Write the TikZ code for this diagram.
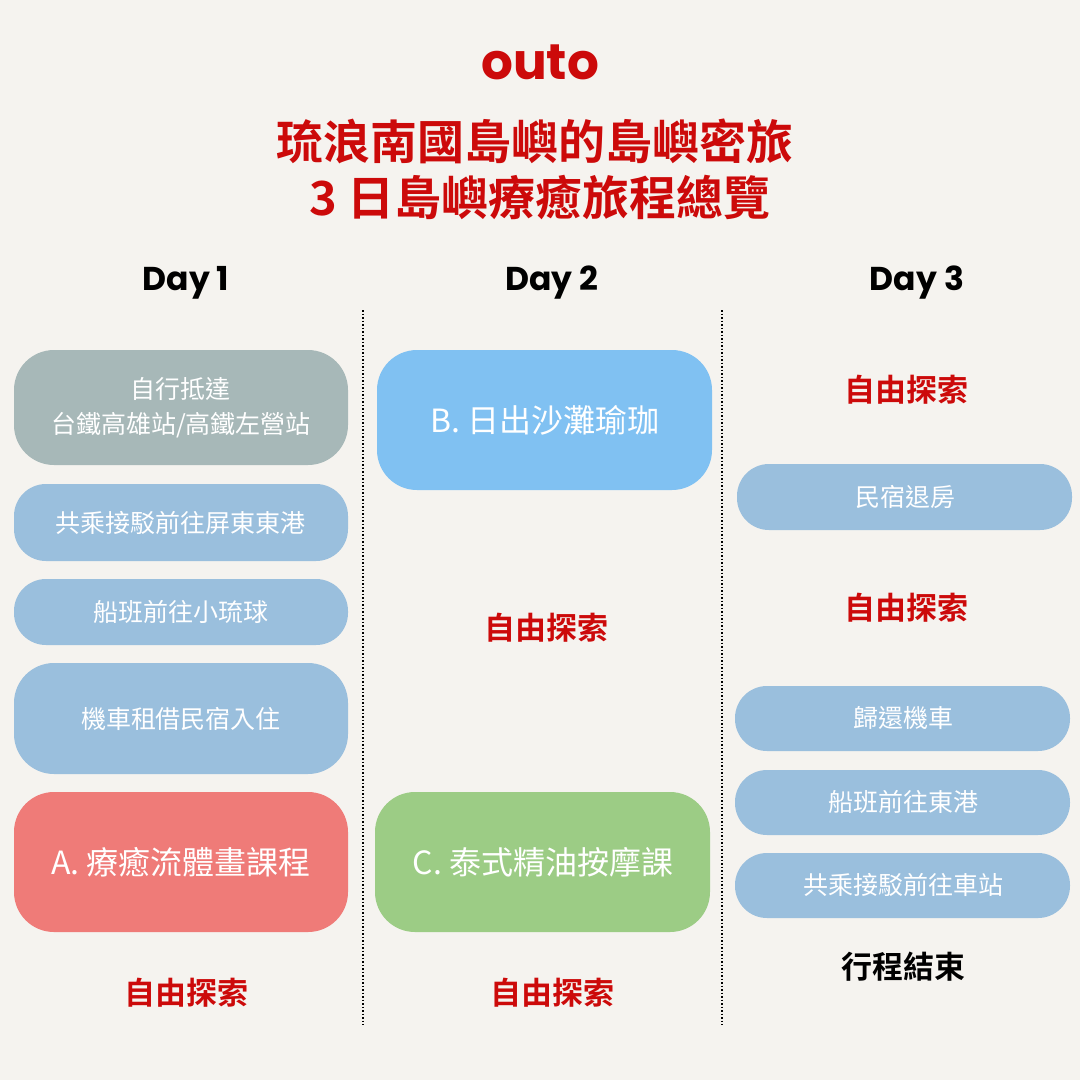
\documentclass[tikz,border=0pt]{standalone}
\usepackage{fontspec}
\setmainfont{Noto Sans CJK TC}
\newfontfamily\latinfont{Poppins}
\newfontfamily\boldcjk{Noto Sans CJK TC Bold}
\definecolor{bgcol}{HTML}{F5F3EF}
\definecolor{titlered}{HTML}{CC0A0A}
\definecolor{graybox}{HTML}{A7B8B8}
\definecolor{bluebox}{HTML}{9ABFDD}
\definecolor{skybox}{HTML}{80C1F2}
\definecolor{redbox}{HTML}{EF7B78}
\definecolor{greenbox}{HTML}{9CCC85}
\tikzset{
  pill/.style={text=white, align=center, font=\fontsize{25}{35}\selectfont},
  bigpill/.style={pill, font=\fontsize{32}{36}\selectfont},
  free/.style={text=titlered, font=\boldcjk\fontsize{31}{36}\selectfont},
  dayhead/.style={font=\latinfont\bfseries\fontsize{33}{38}\selectfont}
}
\begin{document}
\begin{tikzpicture}[x=1pt,y=-1pt]
  \fill[bgcol] (0,0) rectangle (1080,1080);
  \useasboundingbox (0,0) rectangle (1080,1080);

  \node[text=titlered, font=\latinfont\bfseries\fontsize{50}{56}\selectfont] (brand) at (540,62) {outo};
  \node[text=titlered, font=\boldcjk\fontsize{47}{52}\selectfont] (title1) at (535,141) {琉浪南國島嶼的島嶼密旅};
  \node[text=titlered, font=\boldcjk\fontsize{47}{52}\selectfont] (title2) at (540,198) {3 日島嶼療癒旅程總覽};

  \node[dayhead] (d1) at (186,283) {Day 1};
  \node[dayhead] (d2) at (552,283) {Day 2};
  \node[dayhead] (d3) at (917,283) {Day 3};

  \draw[dotted, line width=1.5pt] (363,310) -- (363,1025);
  \draw[dotted, line width=1.5pt] (722,310) -- (722,1025);

  % Day 1
  \fill[graybox, rounded corners=40pt] (14,350) rectangle (348,465);
  \node[pill] (a1) at (181,408) {自行抵達\\台鐵高雄站/高鐵左營站};
  \fill[bluebox, rounded corners=32pt] (14,484) rectangle (348,561);
  \node[pill] (a2) at (181,523) {共乘接駁前往屏東東港};
  \fill[bluebox, rounded corners=32pt] (14,579) rectangle (348,645);
  \node[pill] (a3) at (181,612) {船班前往小琉球};
  \fill[bluebox, rounded corners=40pt] (14,663) rectangle (348,774);
  \node[pill] (a4) at (181,719) {機車租借民宿入住};
  \fill[redbox, rounded corners=40pt] (14,792) rectangle (348,932);
  \node[bigpill] (a5) at (181,862) {A. 療癒流體畫課程};
  \node[free] (a6) at (186,993) {自由探索};

  % Day 2
  \fill[skybox, rounded corners=40pt] (377,350) rectangle (712,490);
  \node[bigpill] (b1) at (545,420) {B. 日出沙灘瑜珈};
  \node[free] (b2) at (546,628) {自由探索};
  \fill[greenbox, rounded corners=40pt] (375,792) rectangle (710,932);
  \node[bigpill] (b3) at (543,862) {C. 泰式精油按摩課};
  \node[free] (b4) at (552,993) {自由探索};

  % Day 3
  \node[free] (c1) at (906,390) {自由探索};
  \fill[bluebox, rounded corners=32pt] (737,464) rectangle (1072,530);
  \node[pill] (c2) at (905,497) {民宿退房};
  \node[free] (c3) at (906,608) {自由探索};
  \fill[bluebox, rounded corners=32pt] (735,686) rectangle (1070,751);
  \node[pill] (c4) at (903,718) {歸還機車};
  \fill[bluebox, rounded corners=32pt] (735,770) rectangle (1070,835);
  \node[pill] (c5) at (903,802) {船班前往東港};
  \fill[bluebox, rounded corners=32pt] (735,853) rectangle (1070,918);
  \node[pill] (c6) at (903,885) {共乘接駁前往車站};
  \node[free, text=black] (c7) at (903,967) {行程結束};
\end{tikzpicture}
\end{document}
